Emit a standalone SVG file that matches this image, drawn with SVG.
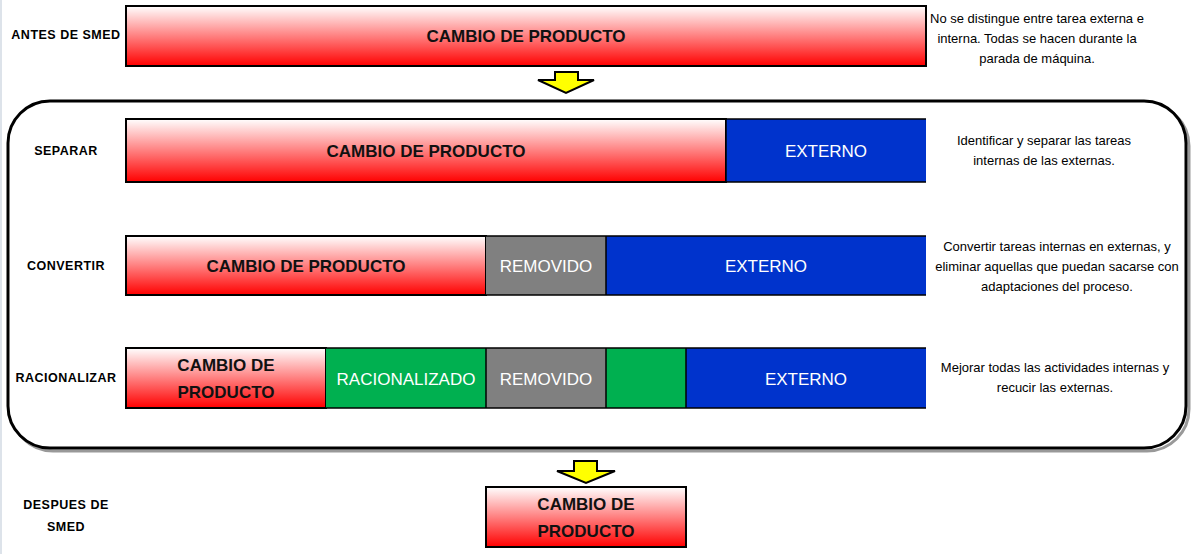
<svg xmlns="http://www.w3.org/2000/svg" width="1193" height="554" viewBox="0 0 1193 554">
<defs>
<linearGradient id="redg" x1="0" y1="0" x2="0" y2="1">
<stop offset="0" stop-color="#ffffff"/>
<stop offset="0.5" stop-color="#ff8080"/>
<stop offset="1" stop-color="#ff0000"/>
</linearGradient>
<style>
.red{fill:url(#redg);stroke:#000;stroke-width:2}
.blue{fill:#0033cc}
.gray{fill:#808080}
.green{fill:#00b050}
.edge{fill:none;stroke:#000;stroke-width:1.5}
.bt{font-family:"Liberation Sans",Arial,sans-serif;font-weight:bold;font-size:17px;fill:#111;text-anchor:middle;dominant-baseline:central}
.wt{font-family:"Liberation Sans",Arial,sans-serif;font-size:17px;fill:#fff;text-anchor:middle;dominant-baseline:central}
.lab{font-family:"Liberation Sans",Arial,sans-serif;font-weight:bold;font-size:12.5px;letter-spacing:0.5px;fill:#000;text-anchor:middle;dominant-baseline:central}
.note{font-family:"Liberation Sans",Arial,sans-serif;font-size:13px;fill:#000;text-anchor:middle;dominant-baseline:central}
.arrow{fill:#ffff00;stroke:#000;stroke-width:2;stroke-linejoin:miter}
</style>
</defs>
<rect x="0" y="0" width="1193" height="554" fill="#fff"/>
<rect x="0" y="0" width="2" height="554" fill="#dde3ea"/>

<g id="frame">
<rect x="11" y="104" width="1178" height="347" rx="42" ry="42" fill="none" stroke="#999" stroke-width="3"/>
<rect x="8" y="101" width="1178" height="347" rx="42" ry="42" fill="#fff" stroke="#000" stroke-width="3"/>
</g>

<g id="antes">
<text class="lab" x="66" y="35">ANTES DE SMED</text>
<rect class="red" x="126" y="6" width="800" height="60"/>
<text class="bt" x="526" y="36">CAMBIO DE PRODUCTO</text>
<text class="note" x="1037" y="18">No se distingue entre tarea externa e</text>
<text class="note" x="1037" y="38">interna. Todas se hacen durante la</text>
<text class="note" x="1037" y="58">parada de máquina.</text>
</g>

<g id="separar">
<text class="lab" x="66" y="151">SEPARAR</text>
<rect class="red" x="126" y="119" width="600" height="63"/>
<text class="bt" x="426" y="151">CAMBIO DE PRODUCTO</text>
<rect class="blue" x="726" y="119" width="200" height="63"/>
<path class="edge" d="M726 119H926M726 182H926M726 119V182"/>
<text class="wt" x="826" y="151">EXTERNO</text>
<text class="note" x="1044" y="140">Identificar y separar las tareas</text>
<text class="note" x="1044" y="160">internas de las externas.</text>
</g>

<g id="convertir">
<text class="lab" x="66" y="266">CONVERTIR</text>
<rect class="red" x="126" y="236" width="360" height="59"/>
<text class="bt" x="306" y="266">CAMBIO DE PRODUCTO</text>
<rect class="gray" x="486" y="236" width="120" height="59"/>
<text class="wt" x="546" y="266">REMOVIDO</text>
<rect class="blue" x="606" y="236" width="320" height="59"/>
<text class="wt" x="766" y="266">EXTERNO</text>
<path class="edge" d="M486 236H926M486 295H926M606 236V295"/>
<text class="note" x="1057" y="246">Convertir tareas internas en externas, y</text>
<text class="note" x="1057" y="266">eliminar aquellas que puedan sacarse con</text>
<text class="note" x="1057" y="286">adaptaciones del proceso.</text>
</g>

<g id="racionalizar">
<text class="lab" x="66" y="378">RACIONALIZAR</text>
<rect class="red" x="126" y="348" width="200" height="60"/>
<text class="bt" x="226" y="365">CAMBIO DE</text>
<text class="bt" x="226" y="392">PRODUCTO</text>
<rect class="green" x="326" y="348" width="160" height="60"/>
<text class="wt" x="406" y="379">RACIONALIZADO</text>
<rect class="gray" x="486" y="348" width="120" height="60"/>
<text class="wt" x="546" y="379">REMOVIDO</text>
<rect class="green" x="606" y="348" width="80" height="60"/>
<rect class="blue" x="686" y="348" width="240" height="60"/>
<text class="wt" x="806" y="379">EXTERNO</text>
<path class="edge" d="M326 348H926M326 408H926M486 348V408M606 348V408M686 348V408"/>
<text class="note" x="1055" y="367">Mejorar todas las actividades internas y</text>
<text class="note" x="1055" y="387">recucir las externas.</text>
</g>

<g id="despues">
<text class="lab" x="66" y="505">DESPUES DE</text>
<text class="lab" x="66" y="527">SMED</text>
<rect class="red" x="486" y="487" width="200" height="60"/>
<text class="bt" x="586" y="504">CAMBIO DE</text>
<text class="bt" x="586" y="531">PRODUCTO</text>
</g>

<g id="connectors">
<path class="arrow" d="M555 72H578V80H594L566 93L538 80H555Z"/>
<path class="arrow" d="M574 461H597V471H615L586 483L557 471H574Z"/>
</g>
</svg>
